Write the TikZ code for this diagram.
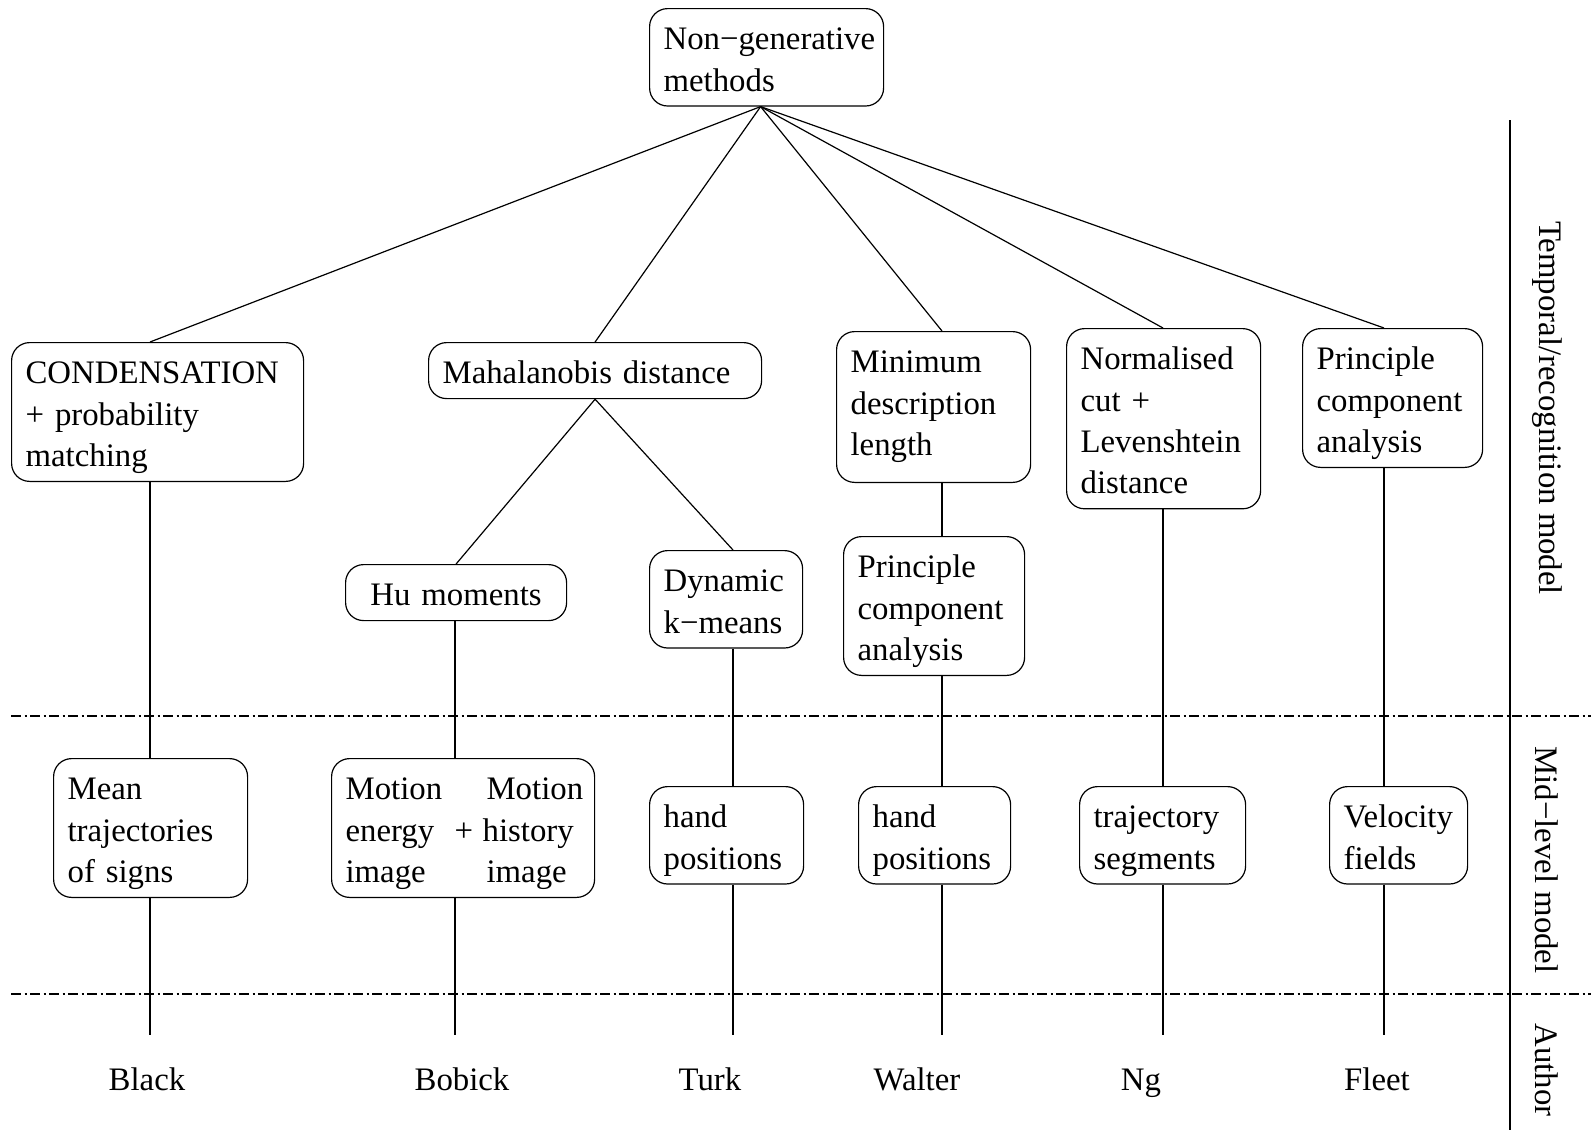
\documentclass[tikz,border=0pt]{standalone}
\usepackage{fontspec}
\setmainfont{Liberation Serif}
\hyphenpenalty=10000
\exhyphenpenalty=10000
\begin{document}
\begin{tikzpicture}[x=0.5pt, y=-0.5pt, line width=0.6pt,
  font=\fontsize{16.4pt}{20.7pt}\selectfont,
  box/.style={draw, rounded corners=9pt, inner xsep=7pt, inner ysep=0pt,
    align=left, anchor=north west, text height=20.5pt},
  one/.style={text depth=7.5pt},
  two/.style={text depth=28.2pt},
  three/.style={text depth=48.9pt},
  four/.style={text depth=69.6pt},
  level/.style={dash pattern=on 5pt off 1.75pt on 1pt off 1.75pt},
  author/.style={anchor=base},
  side/.style={rotate=-90, anchor=center, inner sep=0pt}
]
\useasboundingbox (0,0) rectangle (1591,1130);

% column positions of the vertical links
\coordinate (cA) at (150,0);
\coordinate (cB) at (455,0);
\coordinate (cC) at (733,0);
\coordinate (cD) at (942,0);
\coordinate (cE) at (1163,0);
\coordinate (cF) at (1384,0);

% lower ends of the columns
\coordinate (eA) at (150,1035);
\coordinate (eB) at (455,1035);
\coordinate (eC) at (733,1035);
\coordinate (eD) at (942,1035);
\coordinate (eE) at (1163,1035);
\coordinate (eF) at (1384,1035);

% root
\node[box, two, text width=103pt] (top) at (649,8) {Non−generative\\methods};

% temporal / recognition models
\node[box, three, text width=132pt] (cond) at (11,342) {CONDENSATION\\+ probability\\matching};
\node[box, one, text width=152.5pt] (maha) at (428,342) {Mahalanobis distance};
\node[box, text depth=54.9pt, text width=83pt] (mdl) at (836,331) {Minimum\\description\\length};
\node[box, four, text width=83pt] (ncut) at (1066,328) {Normalised\\cut +\\Levenshtein\\distance};
\node[box, three, text width=76pt] (pca1) at (1302,328) {Principle\\component\\analysis};

\node[box, one, align=center, text width=96.5pt] (hu) at (345,564) {Hu moments};
\node[box, two, text width=62.5pt] (dyn) at (649,550) {Dynamic\\k−means};
\node[box, three, text width=76.5pt] (pca2) at (843,536) {Principle\\component\\analysis};

% mid-level models
\node[box, three, text width=83pt] (mean) at (53,758) {Mean\\trajectories\\of signs};
\node[box, three, text width=117.5pt] (motion) at (331,758)
  {\makebox[70.5pt][l]{Motion}Motion\\
   \makebox[54.5pt][l]{energy}\makebox[14pt][l]{+}history\\
   \makebox[70.5pt][l]{image}image};
\node[box, two, text width=63pt] (hand1) at (649,786) {hand\\positions};
\node[box, two, text width=62pt] (hand2) at (858,786) {hand\\positions};
\node[box, two, text width=69pt] (traj) at (1079,786) {trajectory\\segments};
\node[box, two, text width=55pt] (vel) at (1329,786) {Velocity\\fields};

% authors
\node[author] (black) at (147,1090) {Black};
\node[author] (bobick) at (462,1090) {Bobick};
\node[author] (turk) at (710,1090) {Turk};
\node[author] (walter) at (917,1090) {Walter};
\node[author] (ng) at (1141,1090) {Ng};
\node[author] (fleet) at (1377,1090) {Fleet};

% links from the root
\draw ([xshift=-3pt]top.south) -- (cond.north -| cA);
\draw ([xshift=-3pt]top.south) -- (maha.north);
\draw ([xshift=-3pt]top.south) -- (mdl.north -| cD);
\draw ([xshift=-3pt]top.south) -- (ncut.north -| cE);
\draw ([xshift=-3pt]top.south) -- (pca1.north -| cF);

% branches below the Mahalanobis distance
\draw (maha.south) -- (hu.north);
\draw (maha.south) -- (dyn.north -| cC);

% vertical chains
\draw (cond.south -| cA) -- (mean.north -| cA);
\draw (mean.south -| cA) -- (eA);
\draw (hu.south -| cB) -- (motion.north -| cB);
\draw (motion.south -| cB) -- (eB);
\draw (dyn.south -| cC) -- (hand1.north -| cC);
\draw (hand1.south -| cC) -- (eC);
\draw (mdl.south -| cD) -- (pca2.north -| cD);
\draw (pca2.south -| cD) -- (hand2.north -| cD);
\draw (hand2.south -| cD) -- (eD);
\draw (ncut.south -| cE) -- (traj.north -| cE);
\draw (traj.south -| cE) -- (eE);
\draw (pca1.south -| cF) -- (vel.north -| cF);
\draw (vel.south -| cF) -- (eF);

% level separators
\coordinate (s1a) at (11,716);
\coordinate (s1b) at (1591,716);
\coordinate (s2a) at (11,994);
\coordinate (s2b) at (1591,994);
\draw[level] (s1a) -- (s1b);
\draw[level] (s2a) -- (s2b);
\coordinate (va) at (1510,120);
\coordinate (vb) at (1510,1130);
\draw (va) -- (vb);

% level labels
\node[side] (ltemp) at (1547,408) {Temporal/recognition model};
\node[side] (lmid) at (1547,860) {Mid−level model};
\node[side] (lauth) at (1547,1070) {Author};
\end{tikzpicture}
\end{document}
